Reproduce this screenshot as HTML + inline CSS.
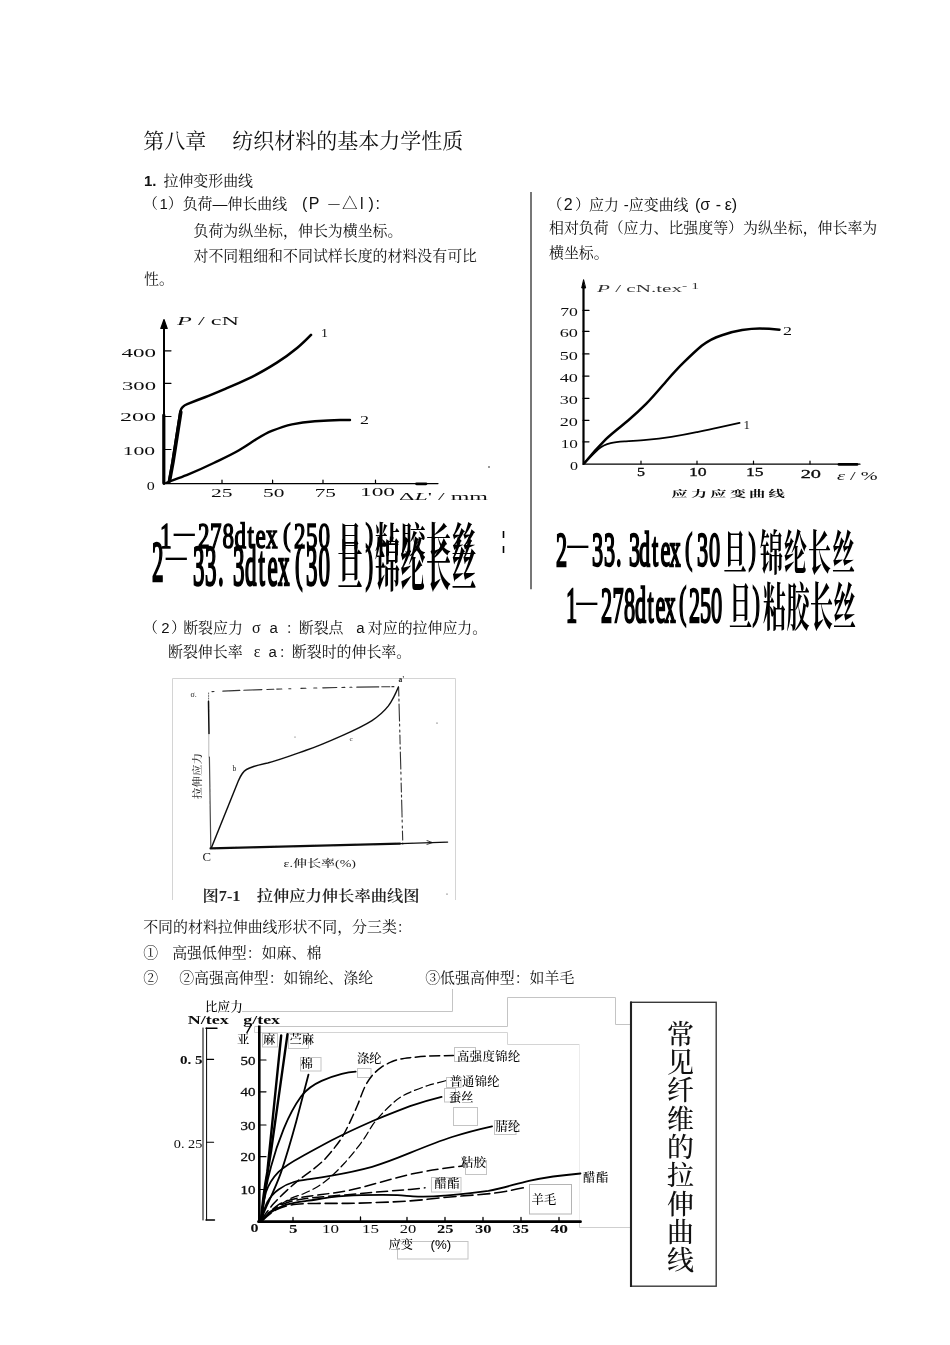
<!DOCTYPE html>
<html lang="zh-CN">
<head>
<meta charset="utf-8">
<title>第八章 纺织材料的基本力学性质</title>
<style>
html,body{margin:0;padding:0;background:#fff;}
body{width:950px;height:1345px;position:relative;overflow:hidden;color:#111;
 font-family:"Liberation Sans","Noto Serif CJK SC",serif;}
.t{position:absolute;white-space:pre;font-size:14.93px;line-height:20px;height:20px;
 font-family:"Liberation Sans","Noto Serif CJK SC",serif;font-weight:400;color:#111;}
.t .c{font-family:"Noto Serif CJK SC",serif;}
.s{display:inline-block;}
.h1{font-size:21px;line-height:28px;height:28px;}
svg{position:absolute;left:0;top:0;overflow:visible;}
.lab{position:absolute;white-space:pre;font-family:"Liberation Sans","Noto Serif CJK SC",serif;font-size:12.3px;line-height:14px;color:#000;font-weight:500;}
.bx{position:absolute;border:1px solid #c8c8c8;box-sizing:border-box;background:transparent;}
.big{position:absolute;white-space:pre;font-family:"Liberation Serif","Noto Serif CJK SC",serif;font-weight:700;color:#000;
 font-size:24px;line-height:24px;transform-origin:0 0;}
</style>
</head>
<body>
<!-- TEXT -->
<div class="t h1" style="left:143.3px;top:127px;">第八章<i class="s" style="width:26px"></i>纺织材料的基本力学性质</div>
<div class="t" style="left:144px;top:170.6px;"><b>1.</b><i class="s" style="width:7px"></i>拉伸变形曲线</div>
<div class="t" style="left:143px;top:194.4px;">（<i class="s" style="width:1.5px"></i>1）负荷—伸长曲线</div>
<div class="t" style="left:302px;top:194.4px;font-size:16px;">(<i class="s" style="width:1.5px"></i>P</div>
<div class="t" style="left:328.3px;top:194.4px;font-size:11.4px;line-height:18px;">—</div>
<div class="t" style="left:342px;top:194.3px;font-size:15.6px;">△</div>
<div class="t" style="left:360px;top:194.4px;font-size:16px;">l<i class="s" style="width:5px"></i>)<i class="s" style="width:1.7px"></i>:</div>
<div class="t" style="left:193.5px;top:220.6px;">负荷为纵坐标，伸长为横坐标。</div>
<div class="t" style="left:193.5px;top:245.6px;">对不同粗细和不同试样长度的材料没有可比</div>
<div class="t" style="left:144px;top:269px;">性。</div>

<div class="t" style="left:547.5px;top:195px;">（<i class="s" style="width:1.4px"></i><span style="font-size:16px">2</span><i class="s" style="width:2.3px"></i>）<i class="s" style="margin-left:-1px"></i>应力<i class="s" style="width:5px"></i>-应变曲线</div>
<div class="t" style="left:695px;top:195px;font-size:16px;">(σ<i class="s" style="width:5.6px"></i>-<i class="s" style="width:3.5px"></i>ε)</div>
<div class="t" style="left:549px;top:218.3px;">相对负荷（应力、比强度等）为纵坐标，伸长率为</div>
<div class="t" style="left:549px;top:243.3px;">横坐标。</div>

<div class="t" style="left:143px;top:618px;">（<i class="s" style="width:3.2px"></i>2<i class="s" style="width:1.6px"></i>）<i class="s" style="margin-left:-2.8px"></i>断裂应力<i class="s" style="width:9px"></i><span style="font-family:'Liberation Serif',serif;font-size:16px">σ</span><i class="s" style="width:9px"></i>a<i class="s" style="width:8px"></i>：<i class="s" style="margin-left:-2px"></i>断裂点<i class="s" style="width:12.8px"></i>a<i class="s" style="width:3.2px"></i>对应的拉伸应力。</div>
<div class="t" style="left:168px;top:642px;">断裂伸长率<i class="s" style="width:11px"></i><span style="font-family:'Liberation Serif',serif;font-size:16px">ε</span><i class="s" style="width:8.2px"></i>a<i class="s" style="width:2px"></i>：<i class="s" style="margin-left:-2px"></i>断裂时的伸长率。</div>

<div class="t" style="left:143.2px;top:917px;">不同的材料拉伸曲线形状不同，分三类：</div>
<div class="t" style="left:143.2px;top:942.8px;">①<i class="s" style="width:14px"></i>高强低伸型：如麻、棉</div>
<div class="t" style="left:143.2px;top:967.6px;">②<i class="s" style="width:21px"></i>②高强高伸型：如锦纶、涤纶<i class="s" style="width:52px"></i>③低强高伸型：如羊毛</div>


<svg width="950" height="1345" viewBox="0 0 950 1345">
<defs>
<filter id="bl" x="-5%" y="-5%" width="110%" height="110%"><feGaussianBlur stdDeviation="0.55"/></filter>
<filter id="bl2" x="-5%" y="-5%" width="110%" height="110%"><feGaussianBlur stdDeviation="0.35"/></filter>
</defs>
<!-- ===== chart 1 : P / cN ===== -->
<g id="c1" filter="url(#bl)" fill="none" stroke="#000" stroke-linecap="round" stroke-linejoin="round">
 <path d="M164 324V484" stroke-width="2"/>
 <path d="M164 319.5L160.8 328.5H167.2Z" fill="#000" stroke-width="1.2"/>
 <path d="M164 483.6H438" stroke-width="1.2"/>
 <path d="M416.5 483.8H426" stroke-width="2.8"/>
 <path d="M164 350.8h7M164 383.3h7M164 416.5h7M164 449.5h7" stroke-width="1.2"/>
 <path d="M222 483v-3M272.6 483v-3M323 483v-3M375.5 483v-3" stroke-width="1.2"/>
 <path d="M169 482 L172.5 462 L176.5 436.4 L180.5 411 C181.5 406.5 184 405.3 187.2 404.1 C193 401.8 199 399.5 204.9 397.3 C212 394.5 219 391.5 226.3 388.4 C235 384.8 243 381.2 251.6 377.1 C260 373 268.5 368 276.9 362.7 C284 358.2 291 353 297.1 348 C302 344 306.5 339.5 311 334.9" stroke-width="2.6"/>
 <path d="M166 483 C173 480 181 477.3 188.4 474.3 C197 470.8 205.5 467 213.7 463 C222 459 231 455 239 450.3 C245 446.8 251 442.5 256.6 439 C261.5 436 266.5 433 271.8 430.9 C278.5 428.2 285 425.8 292 424.3 C299.5 422.7 307 421.8 314.8 421.3 C323 420.7 331.5 420.2 340 420 L350 420" stroke-width="2.4"/>
 <path d="M169.5 481 L173 462 L177 436.4 L180.8 412" stroke-width="3.6"/>
 <path d="M163.8 415V483" stroke-width="3.2"/>
</g>
<g id="c1t" filter="url(#bl2)" font-family="'Liberation Serif',serif" font-size="11.5" fill="#111">
 <text x="121.5" y="357" textLength="34.5" lengthAdjust="spacingAndGlyphs">400</text>
 <text x="122" y="389.6" textLength="34" lengthAdjust="spacingAndGlyphs">300</text>
 <text x="120" y="421" textLength="36" lengthAdjust="spacingAndGlyphs">200</text>
 <text x="122.7" y="455" textLength="32.5" lengthAdjust="spacingAndGlyphs">100</text>
 <text x="146.7" y="489.6" textLength="8" lengthAdjust="spacingAndGlyphs">0</text>
 <text x="211" y="496.8" textLength="21.6" lengthAdjust="spacingAndGlyphs">25</text>
 <text x="263" y="496.8" textLength="21.4" lengthAdjust="spacingAndGlyphs">50</text>
 <text x="314.7" y="496.8" textLength="21.3" lengthAdjust="spacingAndGlyphs">75</text>
 <text x="360" y="495.6" textLength="35" lengthAdjust="spacingAndGlyphs">100</text>
 <text x="177" y="325" textLength="62" lengthAdjust="spacingAndGlyphs"><tspan font-style="italic">P</tspan> / cN</text>
 <text x="399" y="499.6" textLength="89" lengthAdjust="spacingAndGlyphs" font-size="9.8">Δ<tspan font-style="italic">L</tspan>' / mm</text>
 <text x="321" y="337" textLength="7" lengthAdjust="spacingAndGlyphs">1</text>
 <text x="360" y="424" textLength="9" lengthAdjust="spacingAndGlyphs">2</text>
 <circle cx="489" cy="467" r="0.8" stroke="none"/>
</g>


<!-- ===== chart 2 : P / cN.tex-1 ===== -->
<g id="c2" filter="url(#bl)" fill="none" stroke="#000" stroke-linecap="round" stroke-linejoin="round">
 <path d="M583.5 286V464" stroke-width="2.2"/>
 <path d="M583.5 280L581.7 288H585.3Z" fill="#000" stroke-width="1"/>
 <path d="M583 464.2H860" stroke-width="1.2"/>
 <path d="M839 464.4H857" stroke-width="2.8"/>
 <path d="M583 310.4h6M583 331.4h6M583 353.9h6M583 376.1h6M583 398.3h6M583 420.3h6M583 441.8h6" stroke-width="1.2"/>
 <path d="M641 464v-3M697 464v-3M753.5 464v-3M810 464v-3" stroke-width="1.2"/>
 <path d="M584.5 463 C591 455 598 447 605.7 439.3 C613 432.3 621 426.5 628.4 420.3 C634.5 415 640.5 409.5 646.1 403.9 C653 397 660 388.5 666.3 381.2 C672 374.7 678 368 684 362.2 C689.5 356.8 695.5 351 701.7 345.8 C708 340.8 714.5 337.5 721.9 335.2 C728.5 333 735 331.2 742.1 330.1 C748 329.2 754 328.6 759.8 328.6 C766 328.6 772.5 329 779.5 329.7" stroke-width="2.5"/>
 <path d="M584.5 463 C589 458.5 593.5 453.8 598.1 449.4 C602 446 606 444.2 610.7 443.1 C615.5 442 620.5 441.7 625.9 441.3 C632.5 440.8 639.5 440.4 646.1 439.8 C654.5 439 663 438 671.4 436.8 C680 435.5 688.5 434 696.6 432.2 C703.5 430.8 710 429.5 716.9 427.9 C724.5 426.2 732 424.6 739.6 422.9" stroke-width="1.8"/>
</g>
<g id="c2t" filter="url(#bl2)" font-family="'Liberation Serif',serif" font-size="11.5" fill="#111">
 <text x="560.2" y="316.1" textLength="17.7" lengthAdjust="spacingAndGlyphs">70</text>
 <text x="559.7" y="337.1" textLength="18.2" lengthAdjust="spacingAndGlyphs">60</text>
 <text x="559.7" y="359.6" textLength="18.2" lengthAdjust="spacingAndGlyphs">50</text>
 <text x="559.7" y="381.8" textLength="18.2" lengthAdjust="spacingAndGlyphs">40</text>
 <text x="559.7" y="404" textLength="18.2" lengthAdjust="spacingAndGlyphs">30</text>
 <text x="559.7" y="426" textLength="18.2" lengthAdjust="spacingAndGlyphs">20</text>
 <text x="560.7" y="447.5" textLength="17.2" lengthAdjust="spacingAndGlyphs">10</text>
 <text x="570" y="469.5" textLength="8" lengthAdjust="spacingAndGlyphs">0</text>
 <text x="637" y="476" textLength="8" lengthAdjust="spacingAndGlyphs" stroke="#111" stroke-width="0.3">5</text>
 <text x="689" y="476" textLength="17.7" lengthAdjust="spacingAndGlyphs" stroke="#111" stroke-width="0.3">10</text>
 <text x="746" y="476" textLength="17.6" lengthAdjust="spacingAndGlyphs" stroke="#111" stroke-width="0.3">15</text>
 <text x="800.7" y="477.5" textLength="20.3" lengthAdjust="spacingAndGlyphs" stroke="#111" stroke-width="0.3">20</text>
 <text x="597" y="292.3" textLength="102" lengthAdjust="spacingAndGlyphs" font-size="10.8" fill="#333"><tspan font-style="italic">P</tspan> / cN.tex<tspan dy="-3" font-size="8">- 1</tspan></text>
 <text x="837" y="480" textLength="40.6" lengthAdjust="spacingAndGlyphs"><tspan font-style="italic">ε</tspan> / %</text>
 <text x="743.5" y="428.5" textLength="6.5" lengthAdjust="spacingAndGlyphs">1</text>
 <text x="783" y="334.5" textLength="9" lengthAdjust="spacingAndGlyphs">2</text>
 <text transform="translate(671.5 496.8) scale(1.7 1)" x="0 11.4 22.8 34.2 45.6 57" y="0" font-family="'Noto Serif CJK SC',serif" font-weight="700" font-size="9.6">应力应变曲线</text>
</g>


<!-- vertical separator -->
<path d="M531 192V589.3" stroke="#777" stroke-width="2" fill="none"/>
<!-- ===== chart 3 : fig 7-1 ===== -->
<g id="c3f" fill="none" stroke="#d4d4d4" stroke-width="1">
 <path d="M172.5 900V678.5H455.5V900"/>
</g>
<g id="c3" filter="url(#bl)" fill="none" stroke="#111" stroke-linecap="round" stroke-linejoin="round">
 <path d="M208.5 701.5L209 733.5" stroke-width="1.5"/>
 <path d="M209.4 757L210.8 848" stroke-width="1.2" opacity="0.75"/>
 <path d="M208.6 693V701" stroke-width="0.9" stroke-dasharray="1 1.5" opacity="0.7"/>
 <path d="M208.8 733.5V757" stroke-width="0.8" opacity="0.35"/>
 <path d="M210.5 848.4L400 843.6" stroke-width="2.1"/>
 <path d="M400 843.6L447.6 842.1" stroke-width="1.3"/>
  <path d="M427 840.6l5.5 2-5.5 1.8" stroke-width="0.8"/>
 <path d="M212 691.6Q300 687.6 398 686.6" stroke-width="1.1" stroke-dasharray="2 9 17 4 18 5 7 3 5 7 2 10 5 8 3 6 14 5 3 5 2 5 22 3 8 2" opacity="0.85"/>
 <path d="M398.6 687L402.8 844" stroke-width="1.1" stroke-dasharray="9 3 2 3 17 3 2 4 2 3" opacity="0.85"/>
 <path d="M211.5 847.5 L238.3 781 C241 774.5 243 771.5 246.5 769.5 C253 766 260 764.8 267.7 763 C281 759.5 294 754.5 306.8 750 C319 745.8 331 740.5 342.7 735.3 C353 730.8 363 726.3 372 720.6 C378.5 716.3 384 711.5 388.4 705.9 C392.5 700.3 395.5 694 398.4 687" stroke-width="1.45"/>
</g>
<g id="c3t" filter="url(#bl2)" font-family="'Liberation Serif','Noto Serif CJK SC',serif" fill="#222">
 <text x="190.5" y="696.5" font-size="8">σ.</text>
 <text x="398.5" y="681.5" font-size="7.5" font-weight="700">a'</text>
 <text x="232.5" y="771" font-size="7.5">b</text>
 <text x="349.5" y="741" font-size="7">c</text>
 <text x="202.5" y="861" font-size="11.5" textLength="8.5" lengthAdjust="spacingAndGlyphs">C</text>
 <text transform="translate(201 799) rotate(-90)" font-size="10.5" font-weight="500" fill="#333" textLength="46" lengthAdjust="spacingAndGlyphs">拉伸应力</text>
 <text x="283.5" y="866.8" font-size="10.5" font-weight="500" textLength="72.5" lengthAdjust="spacingAndGlyphs">ε.伸长率(%)</text>
 <text x="202.5" y="901.3" font-size="15" font-weight="600" textLength="217" lengthAdjust="spacingAndGlyphs">图7-1　拉伸应力伸长率曲线图</text>
 <circle cx="437" cy="723" r="0.6"/><circle cx="447" cy="894" r="0.6"/><circle cx="295" cy="737" r="0.5"/>
</g>


<!-- ===== big stretched captions ===== -->
<g id="bigt" filter="url(#bl2)" font-family="'Liberation Serif','Noto Serif CJK SC',serif" fill="#000">
 <text transform="translate(0 565.5) scale(1.34 2.937)" x="414.93 441.79 450.75 459.7 469.4 476.87 486.57 492.91 499.63 520.15 529.1" y="0" font-size="16.62" stroke="#000" stroke-width="0.8">233.3dtex30</text>
 <text transform="translate(0 561.5) scale(1.34 2.579)" x="511.19 558.58" y="0" font-size="16.62" stroke="#000" stroke-width="0.8">()</text>
 <text transform="translate(0 554.8) scale(1 1.6)" x="567.3" y="0" font-size="21" font-weight="700">—</text>
 <text transform="translate(0 570.2) scale(1 2.09)" x="723.5 760 784 808 832" y="0" font-size="23" font-weight="700">旦锦纶长丝</text>
 <text transform="translate(0 621.5) scale(1.34 3.026)" x="422.39 448.51 457.09 465.67 473.88 483.21 489.18 495.9 514.18 522.39 530.6" y="0" font-size="16.62" stroke="#000" stroke-width="0.8">1278dtex250</text>
 <text transform="translate(0 617.4) scale(1.34 2.657)" x="506.72 561.57" y="0" font-size="16.62" stroke="#000" stroke-width="0.8">()</text>
 <text transform="translate(0 611.8) scale(1 1.6)" x="576.3" y="0" font-size="21" font-weight="700">—</text>
 <text transform="translate(0 625.7) scale(1 2.27)" x="729 763 786.5 810 833" y="0" font-size="23" font-weight="700">旦粘胶长丝</text>
 <text transform="translate(0 548) scale(1.34 2.065)" x="119.4 147.76 156.72 166.04 175.0 184.7 190.67 198.51 219.4 228.36 237.69" y="0" font-size="17.19" stroke="#000" stroke-width="0.8">1278dtex250</text>
 <text transform="translate(0 545.1) scale(1.34 1.813)" x="211.19 272.76" y="0" font-size="17.19" stroke="#000" stroke-width="0.8">()</text>
 <text transform="translate(0 542.8) scale(1 1.6)" x="173.8" y="0" font-size="21" font-weight="700">—</text>
 <text transform="translate(0 552.6) scale(1 1.46)" x="337.5 375 400.5 426 451.5" y="0" font-size="25" font-weight="700">旦粘胶长丝</text>
 <text transform="translate(0 580.5) scale(1.34 3.356)" x="113.43" y="0" font-size="17.19" stroke="#000" stroke-width="0.8">2</text>
 <text transform="translate(0 585) scale(1.34 3.356)" x="144.03 152.99 162.69 173.88 182.84 192.91 199.63 207.46 228.36 237.69" y="0" font-size="17.19" stroke="#000" stroke-width="0.8">33.3dtex30</text>
 <text transform="translate(0 580.2) scale(1.34 2.947)" x="220.15 272.76" y="0" font-size="17.19" stroke="#000" stroke-width="0.8">()</text>
 <text transform="translate(0 566.8) scale(1 1.6)" x="165.8" y="0" font-size="21" font-weight="700">—</text>
 <text transform="translate(0 585.6) scale(1 2.3)" x="337.5 375 400.5 426 451.5" y="0" font-size="25" font-weight="700">旦锦纶长丝</text>
 <path d="M503.5 531v7M503.5 546v7" stroke="#000" stroke-width="1.6" fill="none"/>
</g>


<!-- ===== chart 4 : fibres ===== -->
<g id="c4boxes" fill="none" stroke="#c4c4c4" stroke-width="1">
 <path d="M242 1011.5H452.5V989"/>
 <path d="M254.5 1026.5H507.5V997.5H615.5V1024.5H631"/>
 <path d="M254.5 1026.5V1032.5H507.5V1044.5H579.5" stroke="#d4d4d4"/><path d="M579.5 1044.5V1222" stroke="#ececec"/><path d="M579.5 1222V1227.5H631" stroke="#cfcfcf"/>
 <rect x="262.5" y="1033.5" width="15" height="13.5"/>
 <rect x="288.5" y="1033.5" width="20" height="15"/>
 <rect x="300.5" y="1057.5" width="20.5" height="13.5"/>
 <rect x="357.5" y="1068.5" width="13.5" height="9"/>
 <rect x="454.5" y="1047.5" width="21" height="14"/>
 <rect x="446.5" y="1077.5" width="14.5" height="10"/>
 <rect x="444.5" y="1088.5" width="11" height="13.5"/>
 <rect x="453.5" y="1107.5" width="24" height="18"/>
 <rect x="494.5" y="1120.5" width="21.5" height="14"/>
 <rect x="465.5" y="1160.5" width="21" height="14"/>
 <rect x="431.5" y="1177.5" width="29.5" height="14.5"/>
 <rect x="529.5" y="1184.5" width="42" height="29.5" stroke="#b4b4b4"/>
 <rect x="397.5" y="1241.5" width="70.5" height="17.5"/>
</g>
<g id="c4" filter="url(#bl)" fill="none" stroke="#000" stroke-linecap="round" stroke-linejoin="round">
 <path d="M259.3 1025.5V1222" stroke-width="2.6" stroke-linecap="butt"/>
 <path d="M258.5 1221.7H580.5" stroke-width="2.8"/>
 <path d="M247 1032.5L251.5 1024.5" stroke-width="1.5"/>
 <path d="M260 1060h6M260 1091.8h6M260 1125h6M260 1156.7h6M260 1189.5h6" stroke-width="1.2"/>
 <path d="M360.5 1221v-4M293 1221v-3.5M407 1221v-3.5M445 1221v-3.5M483 1221v-3.5M521 1221v-3.5M559 1221v-3.5" stroke-width="1.3"/>
 <!-- N/tex scale -->
 <path d="M203 1028V1220M206.6 1028V1220" stroke-width="1"/>
 <path d="M206 1028.2H217M206 1220H214.5" stroke-width="1.4"/>
 <path d="M206.6 1059.4h7M206.6 1142.3h7" stroke-width="1.1"/>
 <!-- flax, ramie -->
 <path d="M261 1220 C262.5 1202 264.5 1187 267.3 1171.9 L281.2 1035.4" stroke-width="2.4"/>
 <path d="M261.5 1220 C263.5 1200 266.5 1178 271 1151.6 L287.5 1034.2" stroke-width="2.4"/>
 <!-- cotton -->
 <path d="M261.5 1220 C263 1214 265 1209.5 267.3 1204.7 C272 1194.5 277 1184 281.2 1171.9 C286.5 1156 291.5 1139 296.3 1121.3 C300.5 1105.5 304.5 1090 308.5 1074.6" stroke-width="1.8"/>
 <!-- polyester solid -->
 <path d="M261 1220 C263.5 1200 266.5 1183 271 1166.8 C274.5 1153.5 278.8 1140.8 283.7 1128.9 C288.5 1117 294.5 1105.5 301.4 1096 C307 1089 314 1084.3 321.6 1080.9 C328 1078 335 1075.5 341.8 1073.8 C346.5 1072.7 351 1072 355.7 1071.6" stroke-width="1.8"/>
 <!-- silk -->
 <path d="M261 1220 C262.5 1209 264 1199.5 266 1192 C269 1183.5 273.5 1177 278.6 1171.9 C285.5 1165.5 293.5 1161 301.4 1156.7 C311.5 1151.2 321.5 1145.7 331.7 1140.3 C345 1133.5 358.5 1127.3 372.1 1121.3 C384.5 1116 397.5 1111 410 1106.2 C420.5 1102.5 431 1099.5 441.6 1096.9" stroke-width="1.8"/>
 <!-- acrylic -->
 <path d="M261 1220 C263 1213 265 1207 267.3 1202.2 C270.5 1196.5 274.3 1192.5 278.6 1189.5 C283.3 1186.2 288.3 1183.5 293.8 1182 C299.5 1180.4 305.5 1179.8 311.5 1178.9 C318.3 1177.9 325 1176.8 331.7 1175.6 C345.3 1173.2 359 1170.4 372.1 1166.8 C385 1163 397.5 1158 410 1152.9 C424 1147.2 438 1141.5 452 1137 C465 1132.8 478.5 1129.3 492.1 1126.3" stroke-width="1.8"/>
 <!-- acetate solid -->
 <path d="M261 1220.5 C264.5 1217.5 267.5 1214.5 271 1212.3 C275.8 1209.2 280.8 1206.5 286.2 1204.7 C292.8 1202.6 299.5 1201.8 306.4 1200.9 C314.8 1199.8 323.3 1198.2 331.7 1197.1 C341.8 1195.8 352 1195.3 362 1195.1 C373.8 1194.9 385.6 1194.7 397.4 1195.1 C403 1195.3 408 1196 413 1196.3 C423.5 1196.8 434 1196.5 444.2 1195.6 C459 1194.3 474 1193 488.4 1190.8 C502 1188.3 515.5 1184 529 1180.9 C546 1177.2 563 1175 580.5 1173.5" stroke-width="1.8"/>
 <!-- HT nylon dashed -->
 <path d="M261.9 1218.7 C263.9 1216.2 269.5 1208.4 273.7 1203.6 C277.9 1198.8 283.0 1194.0 287.2 1190.1 C291.4 1186.2 294.7 1183.4 298.9 1180.0 C303.1 1176.6 308.2 1173.3 312.4 1169.9 C316.6 1166.5 320.5 1163.5 324.2 1159.8 C327.9 1156.1 331.2 1151.9 334.3 1148.0 C337.4 1144.1 339.9 1141.0 342.7 1136.2 C345.5 1131.4 348.7 1124.7 351.2 1119.4 C353.7 1114.1 355.7 1109.5 357.9 1104.2 C360.1 1098.9 362.4 1092.0 364.6 1087.4 C366.9 1082.8 368.6 1079.8 371.4 1076.4 C374.2 1073.0 378.1 1069.6 381.5 1067.2 C384.9 1064.8 388.5 1063.2 391.6 1061.8 C394.7 1060.4 396.9 1059.8 400.0 1059.1 C403.1 1058.4 405.0 1058.2 410.0 1057.7 C415.0 1057.2 422.8 1056.3 430.0 1056.0 C437.2 1055.7 449.5 1055.7 453.4 1055.6" stroke-width="1.5" stroke-dasharray="10 4.5"/>
 <!-- nylon dashed -->
 <path d="M261.9 1219.6 C264.4 1217.5 272.2 1210.5 277.0 1207.0 C281.8 1203.5 286.0 1200.8 290.5 1198.5 C295.0 1196.2 299.5 1195.5 304.0 1193.5 C308.5 1191.5 313.0 1189.5 317.5 1186.7 C322.0 1183.9 326.5 1180.5 331.0 1176.6 C335.5 1172.7 340.5 1167.4 344.4 1163.2 C348.3 1159.0 351.1 1155.6 354.5 1151.4 C357.9 1147.2 361.5 1142.4 364.6 1137.9 C367.7 1133.4 370.2 1128.3 373.0 1124.4 C375.8 1120.5 378.4 1117.7 381.5 1114.3 C384.6 1110.9 388.5 1107.0 391.6 1104.2 C394.7 1101.4 396.9 1099.5 400.0 1097.5 C403.1 1095.5 405.3 1094.3 410.0 1092.3 C414.7 1090.3 421.8 1087.5 428.0 1085.5 C434.2 1083.5 444.0 1081.2 447.2 1080.3" stroke-width="1.25" stroke-dasharray="8 4"/>
 <!-- viscose dashed -->
 <path d="M262 1221 C267 1214.5 272.5 1208.8 278.6 1204.7 C284 1201.5 290 1199.8 296.3 1198.4 C304.5 1196.5 313 1195.7 321.6 1194.6 C330 1193.5 338.5 1192.2 346.9 1190.8 C355.3 1189.2 363.8 1187 372.1 1184.5 C384.8 1181 397.3 1177.5 410 1174.4 C427.5 1170.5 445 1168 462.6 1166.1" stroke-width="1.5" stroke-dasharray="11 5"/>
 <!-- acetate dashed (mid) -->
 <path d="M268 1213 C274 1208.5 280 1205.3 286 1203 C292.5 1200.6 299.3 1199.3 306 1198.5 C314.5 1197.3 323 1196.7 331.7 1196 C345.2 1194.8 358.7 1193.8 372 1192.5 C384.8 1191.3 397.5 1190.5 410 1189.5 L425 1187.8" stroke-width="1.5" stroke-dasharray="11 5"/>
 <!-- wool dashed -->
 <path d="M262 1221 C266.5 1216.5 271 1212.8 276 1209.8 C282.3 1206.5 289.3 1205 296.3 1204.2 C304.7 1203.3 313.2 1203.5 321.6 1203.4 L346.9 1203.4 C355.3 1203.3 363.7 1203 372 1202.7 C384.8 1202.3 397.5 1201.8 410 1200.9 C419 1200.2 428 1199.3 436.8 1198.2 C455.3 1196.3 473.8 1195.3 492 1193.4 C503.8 1192 515.5 1189.5 527 1187" stroke-width="1.6" stroke-dasharray="12 5"/>
</g>
<g id="c4t" filter="url(#bl2)" font-family="'Liberation Serif',serif" font-weight="700" font-size="12.5" fill="#111">
 <text x="187.7" y="1023.5" textLength="41" lengthAdjust="spacingAndGlyphs">N/tex</text>
 <text x="243.3" y="1023.5" textLength="36.7" lengthAdjust="spacingAndGlyphs">g/tex</text>
 <text x="180" y="1063.5" textLength="22.5" lengthAdjust="spacingAndGlyphs">0. 5</text>
 <text x="173.8" y="1148" textLength="28.5" lengthAdjust="spacingAndGlyphs" font-weight="400">0. 25</text>
 <g font-weight="400" font-size="12.5" stroke="#111" stroke-width="0.3">
 <text x="240.5" y="1064.5" textLength="15" lengthAdjust="spacingAndGlyphs">50</text>
 <text x="240.5" y="1096.3" textLength="15" lengthAdjust="spacingAndGlyphs">40</text>
 <text x="240.5" y="1129.5" textLength="15" lengthAdjust="spacingAndGlyphs">30</text>
 <text x="240.5" y="1161.2" textLength="15" lengthAdjust="spacingAndGlyphs">20</text>
 <text x="240.5" y="1194" textLength="15" lengthAdjust="spacingAndGlyphs">10</text>
 </g>
 <text x="250.5" y="1232" textLength="8" lengthAdjust="spacingAndGlyphs">0</text>
 <text x="289" y="1232.6" textLength="8.5" lengthAdjust="spacingAndGlyphs">5</text>
 <text x="322" y="1232.6" textLength="17" lengthAdjust="spacingAndGlyphs" font-weight="400">10</text>
 <text x="362" y="1232.6" textLength="17" lengthAdjust="spacingAndGlyphs" font-weight="400">15</text>
 <text x="399.7" y="1232.6" textLength="16.5" lengthAdjust="spacingAndGlyphs" font-weight="400">20</text>
 <text x="437" y="1232.6" textLength="16.5" lengthAdjust="spacingAndGlyphs">25</text>
 <text x="475" y="1232.6" textLength="16.5" lengthAdjust="spacingAndGlyphs">30</text>
 <text x="512.5" y="1232.6" textLength="16.5" lengthAdjust="spacingAndGlyphs">35</text>
 <text x="550.5" y="1232.6" textLength="17.5" lengthAdjust="spacingAndGlyphs">40</text>
</g>
<!-- big box -->
<rect x="631" y="1002.3" width="85.2" height="283.9" fill="#fff" stroke="#3a3a3a" stroke-width="1.4"/>
<path d="M631 1001.6V1286.9" stroke="#222" stroke-width="2.1" fill="none"/>

</svg>

<!-- chart 4 labels -->
<div class="lab" style="left:205px;top:999.5px;font-size:12.6px;">比应力</div>
<div class="lab" style="left:237px;top:1033px;">亚</div>
<div class="lab" style="left:263px;top:1033px;">麻</div>
<div class="lab" style="left:289.5px;top:1033px;">苎麻</div>
<div class="lab" style="left:300.5px;top:1057px;">棉</div>
<div class="lab" style="left:357px;top:1052px;">涤纶</div>
<div class="lab" style="left:457px;top:1050px;letter-spacing:0.45px;">高强度锦纶</div>
<div class="lab" style="left:449.5px;top:1075px;letter-spacing:0.3px;">普通锦纶</div>
<div class="lab" style="left:449px;top:1090.5px;">蚕丝</div>
<div class="lab" style="left:495.5px;top:1120px;letter-spacing:0.3px;">腈纶</div>
<div class="lab" style="left:461px;top:1156px;letter-spacing:0.5px;">粘胶</div>
<div class="lab" style="left:434.5px;top:1176.5px;letter-spacing:0.4px;">醋酯</div>
<div class="lab" style="left:583px;top:1171px;letter-spacing:0.6px;">醋酯</div>
<div class="lab" style="left:531.5px;top:1192.5px;letter-spacing:0.3px;">羊毛</div>
<div class="lab" style="left:388.5px;top:1238px;">应变<i class="s" style="width:17.5px"></i><span style="font-size:13.3px">(%)</span></div>
<div class="lab" style="left:667px;top:1018.7px;font-size:27px;line-height:28.35px;width:27px;white-space:normal;text-align:center;color:#111;font-family:'Noto Serif CJK SC',serif;">常<br>见<br>纤<br>维<br>的<br>拉<br>伸<br>曲<br>线</div>

</body>
</html>
